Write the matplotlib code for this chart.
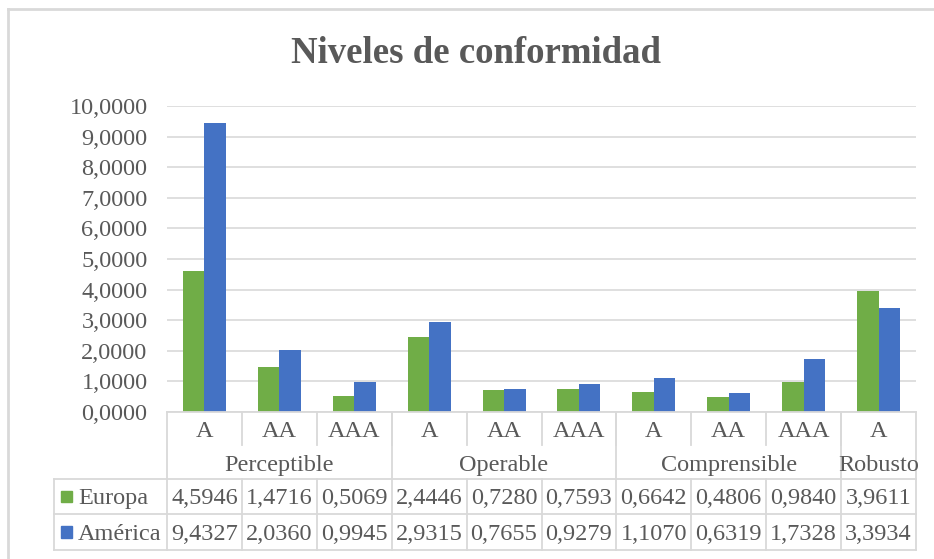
import numpy as np
import matplotlib.pyplot as plt
from matplotlib.lines import Line2D
from matplotlib.patches import Rectangle

# ---------------------------------------------
# DATA
# ---------------------------------------------
niveles  = ["A", "AA", "AAA", "A", "AA", "AAA", "A", "AA", "AAA", "A"]
grupos   = ["Perceptible", "Operable", "Comprensible", "Robusto"]
n_grupo  = [3, 3, 3, 1]
europa   = [4.5946, 1.4716, 0.5069, 2.4446, 0.7280, 0.7593, 0.6642, 0.4806, 0.9840, 3.9611]
america  = [9.4327, 2.0360, 0.9945, 2.9315, 0.7655, 0.9279, 1.1070, 0.6319, 1.7328, 3.3934]
series   = ["Europa", "América"]
yticks   = np.arange(0, 11, 1)

C_EU   = "#70AD47"
C_AM   = "#4472C4"
C_TXT  = "#595959"
C_LINE = "#D9D9D9"
FONT   = "Liberation Serif"
FS     = 17.5

W, H = 934, 559
fx = lambda x: x / W
fy = lambda y: 1 - y / H

fig = plt.figure(figsize=(W / 100, H / 100), dpi=100)
ax = fig.add_axes([fx(167), fy(412), fx(916) - fx(167), fy(106) - fy(412)])

x = np.arange(len(niveles))
bw = 0.287
ax.bar(x - bw / 2, europa, bw, color=C_EU, zorder=3)
ax.bar(x + bw / 2, america, bw, color=C_AM, zorder=3)

ax.set_xlim(-0.5, len(niveles) - 0.5)
ax.set_ylim(0, 10)
ax.set_yticks(yticks)
ax.set_yticklabels([f"{v:.4f}".replace(".", ",") for v in yticks],
                   fontfamily=FONT, fontsize=FS, color=C_TXT)
ax.set_xticks([])
ax.tick_params(axis="y", length=0, pad=14)
for s in ax.spines.values():
    s.set_visible(False)
ax.grid(axis="y", color=C_LINE, lw=1.2, zorder=0)

# ---------------------------------------------
# DATA TABLE (pixel layout like Excel)
# ---------------------------------------------
x0, x1 = 167, 916
cw = (x1 - x0) / len(niveles)
r_sub, r_grp, r_eu, r_am, r_end = 412, 444, 479, 514, 550
left_col = 54

def hline(xa, xb, y):
    fig.add_artist(Line2D([fx(xa), fx(xb)], [fy(y), fy(y)], color=C_LINE, lw=1.3))

def vline(xp, ya, yb):
    fig.add_artist(Line2D([fx(xp), fx(xp)], [fy(ya), fy(yb)], color=C_LINE, lw=1.3))

def txt(xp, yp, s, **kw):
    # yp = baseline in pixels
    fig.text(fx(xp), fy(yp), s, fontfamily=FONT, fontsize=FS, color=C_TXT,
             va="baseline", **kw)

hline(x0, x1, r_sub)
hline(left_col, x1, r_eu)
hline(left_col, x1, r_am)
hline(left_col, x1, r_end)
vline(x0, r_sub, r_end)
vline(x1, r_sub, r_end)
vline(left_col, r_eu, r_end)

# sub-level labels + separators
for i, lab in enumerate(niveles):
    txt(x0 + cw * (i + 0.5), 437, lab, ha="center")
    if i > 0:
        vline(x0 + cw * i, r_sub, r_sub + 33)
        vline(x0 + cw * i, r_eu, r_end)

# group labels + full separators
start = 0
for g, n in zip(grupos, n_grupo):
    txt(x0 + cw * (start + n / 2), 471, g, ha="center")
    if start > 0:
        vline(x0 + cw * start, r_sub, r_eu)
    start += n

# series rows
for (name, vals, col, yb, yc) in [(series[0], europa, C_EU, 504, 496.5),
                                  (series[1], america, C_AM, 540, 532)]:
    fig.add_artist(Rectangle((fx(61), fy(yc + 5.5)), fx(11.5), 11.5 / H,
                             color=col, transform=fig.transFigure))
    txt(78, yb, name, ha="left")
    for i, v in enumerate(vals):
        txt(x0 + cw * (i + 0.5), yb, f"{v:.4f}".replace(".", ","), ha="center")

# title
fig.text(fx(476), fy(63), "Niveles de conformidad", fontfamily=FONT, fontsize=26.5,
         fontweight="bold", color=C_TXT, ha="center", va="baseline")

# chart border
fig.add_artist(Line2D([fx(8), fx(8)], [fy(9), 0], color=C_LINE, lw=2))
fig.add_artist(Line2D([fx(8), 1], [fy(9), fy(9)], color=C_LINE, lw=2))

plt.savefig("out.png", dpi=100)
